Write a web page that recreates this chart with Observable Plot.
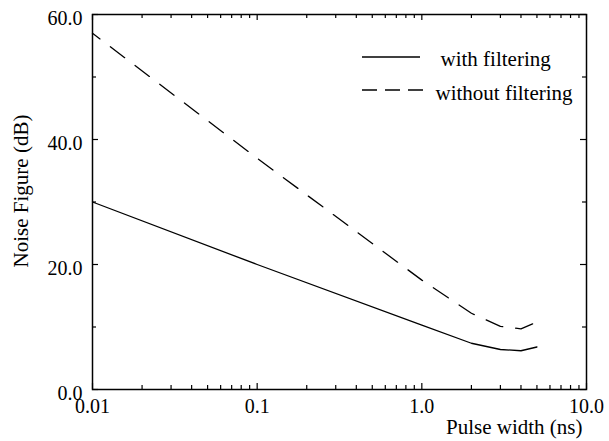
<!DOCTYPE html>
<html>
<head>
<meta charset="utf-8">
<script src="https://cdn.jsdelivr.net/npm/d3@7"></script>
<script src="https://cdn.jsdelivr.net/npm/@observablehq/plot@0.6"></script>
<style>
  html, body { margin: 0; padding: 0; background: white; }
  svg text { font-family: "Liberation Serif", "Times New Roman", serif !important; }
</style>
</head>
<body>
<div id="chart"></div>
<script>
// Data
const pulseWidth = [0.01, 0.1, 1, 2, 3, 4, 5];
const withFiltering = [30, 20, 10.3, 7.4, 6.4, 6.2, 6.8];
const withoutFiltering = [57, 37, 17.5, 12.2, 10.1, 9.7, 10.8];

const xMajorTicks = [0.01, 0.1, 1, 10];
const xMinorTicks = [0.01, 0.1, 1].flatMap(d => [2,3,4,5,6,7,8,9].map(k => +(k * d).toPrecision(3)));
const yMajorTicks = [0, 20, 40, 60];
const yMinorTicks = [10, 30, 50];
const seriesNames = ["with filtering", "without filtering"];

const rowsWith = pulseWidth.map((w, i) => ({w, nf: withFiltering[i]}));
const rowsWithout = pulseWidth.map((w, i) => ({w, nf: withoutFiltering[i]}));

const W = 609, H = 441;
const mt = 14, mr = 23, mb = 52, ml = 92;
const pw = W - ml - mr, ph = H - mt - mb;
const font = "'Liberation Serif', 'Times New Roman', serif";

const tickStyle = {stroke: "black", strokeWidth: 1.2};
const majorLen = 6, minorLen = 4;

const chart = Plot.plot({
  width: W, height: H,
  marginTop: mt, marginRight: mr, marginBottom: mb, marginLeft: ml,
  style: {fontFamily: font, fontSize: "20px", background: "white", color: "black"},
  x: {type: "log", domain: [0.01, 10]},
  y: {domain: [0, 60]},
  marks: [
    // inward ticks, bottom & top
    Plot.ruleX(xMajorTicks, {...tickStyle, insetTop: ph - majorLen}),
    Plot.ruleX(xMajorTicks, {...tickStyle, insetBottom: ph - majorLen}),
    Plot.ruleX(xMinorTicks, {...tickStyle, insetTop: ph - minorLen}),
    Plot.ruleX(xMinorTicks, {...tickStyle, insetBottom: ph - minorLen}),
    // inward ticks, left & right
    Plot.ruleY(yMajorTicks, {...tickStyle, insetRight: pw - majorLen}),
    Plot.ruleY(yMajorTicks, {...tickStyle, insetLeft: pw - majorLen}),
    Plot.ruleY(yMinorTicks, {...tickStyle, insetRight: pw - minorLen}),
    Plot.ruleY(yMinorTicks, {...tickStyle, insetLeft: pw - minorLen}),
    Plot.axisX(xMajorTicks, {
      tickSize: 0, tickPadding: 9, label: null, fontSize: 20, fontFamily: font,
      tickFormat: d => d < 1 ? String(d) : d.toFixed(1)
    }),
    Plot.axisY(yMajorTicks, {
      tickSize: 0, tickPadding: 10, label: null, fontSize: 20, fontFamily: font, dy: 4,
      tickFormat: d => d.toFixed(1)
    }),
    Plot.line(rowsWith, {x: "w", y: "nf", stroke: "black", strokeWidth: 1.3}),
    Plot.line(rowsWithout, {x: "w", y: "nf", stroke: "black", strokeWidth: 1.3,
      strokeDasharray: "18,13", strokeDashoffset: 8.6}),
    Plot.frame({stroke: "black", strokeWidth: 1.5}),
    // axis labels
    Plot.text(["Pulse width (ns)"], {frameAnchor: "bottom-right", textAnchor: "end",
      lineAnchor: "middle", dx: -4, dy: 37.3, fontSize: 21, fontFamily: font, fill: "black"}),
    Plot.text(["Noise Figure (dB)"], {frameAnchor: "left", rotate: -90, textAnchor: "middle",
      lineAnchor: "middle", dx: -71, dy: -11, fontSize: 21, fontFamily: font, fill: "black"}),
    // legend texts
    Plot.text([seriesNames[0]], {frameAnchor: "top-left", textAnchor: "start", lineAnchor: "middle",
      dx: 440 - ml, dy: 58.3 - mt, fontSize: 21, fontFamily: font, fill: "black"}),
    Plot.text([seriesNames[1]], {frameAnchor: "top-left", textAnchor: "start", lineAnchor: "middle",
      dx: 435 - ml, dy: 92.6 - mt, fontSize: 21, fontFamily: font, fill: "black"})
  ]
});

// legend line samples
const svg = d3.select(chart);
svg.append("line").attr("x1", 362).attr("x2", 420).attr("y1", 57).attr("y2", 57)
  .attr("stroke", "black").attr("stroke-width", 1.3);
svg.append("line").attr("x1", 362).attr("x2", 423).attr("y1", 90).attr("y2", 90)
  .attr("stroke", "black").attr("stroke-width", 1.3).attr("stroke-dasharray", "15,8");

document.getElementById("chart").appendChild(chart);
</script>
</body>
</html>
